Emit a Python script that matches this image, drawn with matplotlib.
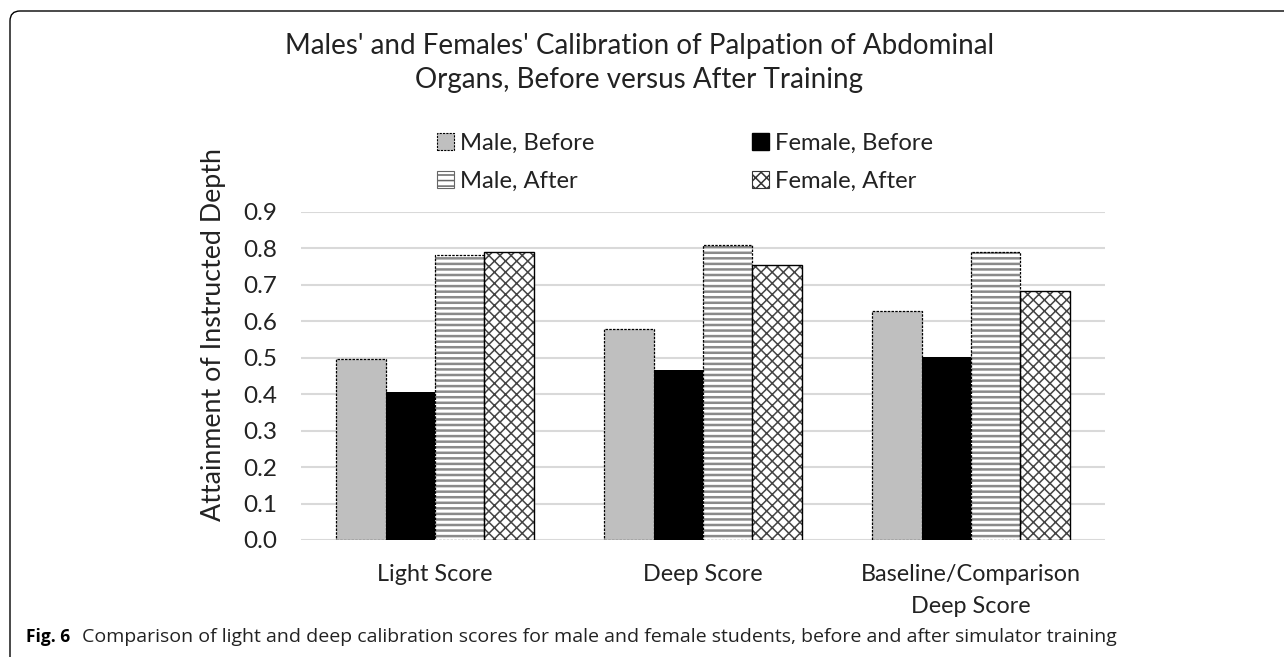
import numpy as np
import matplotlib
matplotlib.use("Agg")
import matplotlib.pyplot as plt
from matplotlib.patches import FancyBboxPatch, Patch

categories = ["Light Score", "Deep Score", "Baseline/Comparison\nDeep Score"]
series = ["Male, Before", "Female, Before", "Male, After", "Female, After"]
male_before = [0.495, 0.578, 0.629]
female_before = [0.407, 0.466, 0.503]
male_after = [0.781, 0.809, 0.791]
female_after = [0.789, 0.754, 0.682]
yticks = [0.0, 0.1, 0.2, 0.3, 0.4, 0.5, 0.6, 0.7, 0.8, 0.9]

plt.rcParams["font.family"] = ["Lato", "DejaVu Sans"]
plt.rcParams["hatch.linewidth"] = 1.8

fig = plt.figure(figsize=(12.84, 6.57), dpi=100)
ax = fig.add_axes([0.2344, 0.1781, 0.6262, 0.4996])

x = np.arange(len(categories))
w = 0.184
offsets = [-1.5 * w, -0.5 * w, 0.5 * w, 1.5 * w]

# male before: grey, dashed edge
ax.bar(x + offsets[0], male_before, w, color="#bfbfbf", edgecolor="black",
       linestyle=(0, (2, 1)), linewidth=0.9, zorder=3)
# female before: solid black
ax.bar(x + offsets[1], female_before, w, color="black", linewidth=0, zorder=3)
# male after: horizontal stripes
ax.bar(x + offsets[2], male_after, w, color="white", edgecolor="#8a8a8a",
       hatch="---", linewidth=0, zorder=3)
ax.bar(x + offsets[2], male_after, w, fill=False, edgecolor="black",
       linestyle=(0, (2, 1)), linewidth=0.9, zorder=4)
# female after: weave-like pattern
plt.rcParams["hatch.linewidth"] = 1.1
ax.bar(x + offsets[3], female_after, w, color="white", edgecolor="#444444",
       hatch="xxx", linewidth=0, zorder=3)
ax.bar(x + offsets[3], female_after, w, fill=False, edgecolor="black",
       linewidth=1.0, zorder=4)

ax.set_xlim(-0.5, 2.5)
ax.set_ylim(0, 0.9)
ax.set_yticks(yticks)
ax.set_yticklabels([f"{v:.1f}" for v in yticks], fontsize=17.5, color="#222222")
ax.set_xticks(x)
ax.set_xticklabels(categories, fontsize=16.8, color="#222222", linespacing=1.65)
ax.tick_params(axis="x", length=0, pad=17)
ax.tick_params(axis="y", length=0, pad=17)
ax.grid(axis="y", color="#d9d9d9", linewidth=1.5, zorder=0)
ax.set_axisbelow(True)
for s in ax.spines.values():
    s.set_visible(False)
ax.set_ylabel("Attainment of Instructed Depth", fontsize=19.3, color="#222222")
ax.yaxis.set_label_coords(-0.093, 0.625)

fig.text(0.498, 0.904, "Males' and Females' Calibration of Palpation of Abdominal\nOrgans, Before versus After Training",
         ha="center", va="center", fontsize=20, color="#222222", linespacing=1.38)

# legend proxies, ordered so rows read Male/Female Before, then Male/Female After
h_mb = Patch(facecolor="#bfbfbf", edgecolor="black", linestyle=(0, (2, 1)), linewidth=0.8)
h_fb = Patch(facecolor="black", edgecolor="black")
h_ma = Patch(facecolor="white", edgecolor="#666666", hatch="---", linewidth=0.8)
h_fa = Patch(facecolor="white", edgecolor="#333333", hatch="xxx", linewidth=0.8)
fig.legend([h_mb, h_ma, h_fb, h_fa], [series[0], series[2], series[1], series[3]],
           ncol=2, loc="center", bbox_to_anchor=(0.5335, 0.7527),
           frameon=False, fontsize=17.2, handlelength=0.71, handleheight=0.71,
           handletextpad=0.25, columnspacing=6.6, labelspacing=0.72, labelcolor="#222222")

# caption
fig.text(0.020, 0.030, "Fig. 6", fontsize=12.5, fontweight="bold", ha="left", va="center",
         family=["Open Sans", "DejaVu Sans"])
fig.text(0.0639, 0.030, "Comparison of light and deep calibration scores for male and female students, before and after simulator training",
         fontsize=14, ha="left", va="center", family=["Open Sans", "DejaVu Sans"], color="#222222")

# rounded frame (open to the right and bottom)
frame = FancyBboxPatch((10, -60), 1400, 657 - 11 + 60, boxstyle="round,pad=0,rounding_size=10",
                       transform=None, fill=False, edgecolor="black", linewidth=1.0)
fig.patches.append(frame)

fig.savefig("out.png", dpi=100)
